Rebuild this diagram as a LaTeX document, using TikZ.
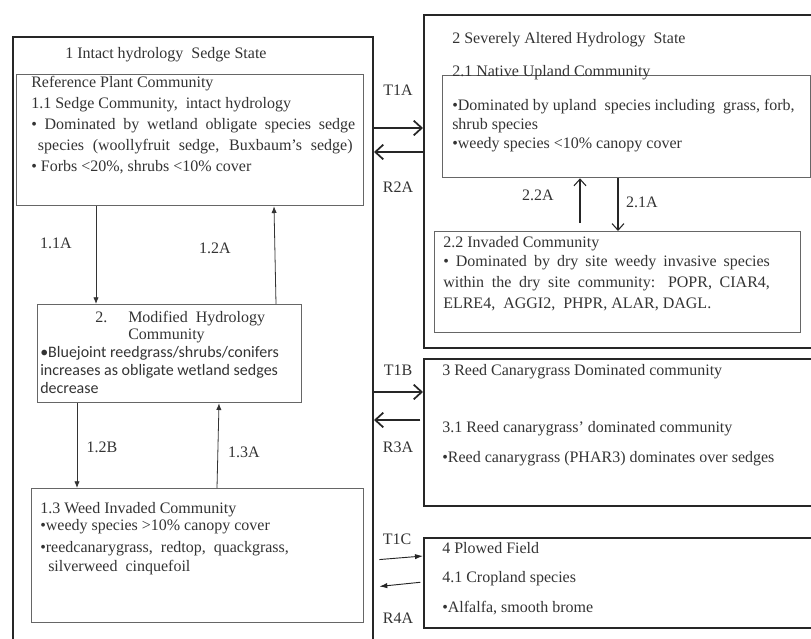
\documentclass[tikz,border=0pt]{standalone}
\usepackage{fontspec}
\setmainfont{Liberation Serif}
\newfontfamily\carlito{Carlito}
\usepackage{tikz}
\usetikzlibrary{arrows.meta,positioning}

\begin{document}
\begin{tikzpicture}[x=0.75pt,y=-0.75pt,
    statebox/.style={draw=black!85,line width=1.5pt,anchor=north west,inner sep=0pt},
    commbox/.style={draw=black!60,line width=1pt,anchor=north west,inner sep=0pt},
    txt/.style={anchor=base west,align=left,inner sep=0pt,text=black!80,font=\fontsize{12}{15.6}\selectfont},
    lbl/.style={inner sep=0pt,text=black!80,font=\fontsize{12}{14}\selectfont},
    flow/.style={-{Latex[length=5pt,width=4pt]},line width=0.6pt,draw=black!80},
    trans/.style={-{Straight Barb[length=6pt,width=11pt]},line width=1.3pt,draw=black!85},
    cropflow/.style={-{Latex[length=6pt,width=4pt]},line width=0.7pt,draw=black!85},
    commflow/.style={-{Straight Barb[length=5pt,width=9pt]},line width=0.8pt,draw=black!85}]

            \useasboundingbox (0,0) rectangle (811,639);
            \clip (0,0) rectangle (811,639);

            % state boxes
            \node[statebox,minimum width=270pt,minimum height=460.5pt] (intact) at (12,36) {};
            \node[statebox,minimum width=305.25pt,minimum height=249.75pt] (altered) at (423,14) {};
            \node[statebox,minimum width=305.25pt,minimum height=110.25pt] (reed) at (423,358) {};
            \node[statebox,minimum width=305.25pt,minimum height=67.5pt] (plowed) at (423,537) {};

            % community boxes
            \node[commbox,minimum width=260.25pt,minimum height=98.25pt] (sedge) at (16,74) {};
            \node[commbox,minimum width=198pt,minimum height=73.5pt] (modhyd) at (37,304) {};
            \node[commbox,minimum width=249pt,minimum height=100.5pt] (weed) at (31,488) {};
            \node[commbox,minimum width=276pt,minimum height=76.5pt] (upland) at (442,75) {};
            \node[commbox,minimum width=274.5pt,minimum height=75.75pt] (invaded) at (434,231) {};

            % state 1 (multi-line texts sit on their last line)
            \node[txt] (intacttitle) at (65,58) {1 Intact hydrology\ \ Sedge State};
            \node[txt] (sedgetxt) at (31,171) {Reference Plant Community\\
                1.1 Sedge Community,\ \ intact hydrology\\
                \makebox[243pt][s]{• Dominated by wetland obligate species sedge}\\
                \hspace*{5pt}\makebox[236pt][s]{species (woollyfruit sedge, Buxbaum's sedge)}\\
                • Forbs <20\%, shrubs <10\% cover};
            \node[txt] (modnum) at (95,322) {2.};
            \node[txt,font=\fontsize{12}{12.75}\selectfont] (modtitle) at (128,339) {Modified\ \ Hydrology\\Community};
            \node[txt,font=\carlito\fontsize{12}{13.5}\selectfont] (modtxt) at (40,393) {•Bluejoint reedgrass/shrubs/conifers\\increases as obligate wetland sedges\\decrease};
            \node[txt,font=\fontsize{12}{12.75}\selectfont] (weedtxt) at (40,571) {1.3 Weed Invaded Community\\
                •weedy species >10\% canopy cover\\[3.75pt]
                •reedcanarygrass,\ \ redtop,\ \ quackgrass,\\[1.5pt]
                \hspace*{6pt}silverweed\ \ cinquefoil};

            % state 2
            \node[txt] (alteredtitle) at (452,43) {2 Severely Altered Hydrology\ \ State};
            \node[txt] (uplandtitle) at (452,76) {2.1 Native Upland Community};
            \node[txt,font=\fontsize{12}{13.9}\selectfont] (uplandtxt) at (452,148) {•Dominated by upland\ \ species including\ \ grass, forb,\\
                shrub species\\
                •weedy species <10\% canopy cover};
            \node[txt] (invadedtitle) at (443,247) {2.2 Invaded Community};
            \node[txt,font=\fontsize{12}{15.4}\selectfont] (invadedtxt) at (443,308) {\makebox[245pt][s]{• Dominated by dry site weedy invasive species}\\
                \makebox[245pt][s]{within the dry site community: POPR, CIAR4,}\\
                ELRE4,\ \ AGGI2,\ \ PHPR, ALAR, DAGL.};

            % states 3 and 4
            \node[txt] (reedtitle) at (442,375) {3 Reed Canarygrass Dominated community};
            \node[txt] (reedsub) at (442,432) {3.1 Reed canarygrass' dominated community};
            \node[txt] (reedtxt) at (442,462) {•Reed canarygrass (PHAR3) dominates over sedges};
            \node[txt,font=\fontsize{12}{22}\selectfont] (plowedtxt) at (442,612) {4 Plowed Field\\4.1 Cropland species\\•Alfalfa, smooth brome};

            % pathways inside state 1
            \draw[flow] (96,0 |- sedge.south) -- (96,0 |- modhyd.north);
            \draw[flow] (276,0 |- modhyd.north) -- (274,0 |- sedge.south);
            \draw[flow] (77,0 |- modhyd.south) -- (77,0 |- weed.north);
            \draw[flow] (217,0 |- weed.north) -- (219,0 |- modhyd.south);
            \node[lbl] (p11a) at (56,243) {1.1A};
            \node[lbl] (p12a) at (215,248) {1.2A};
            \node[lbl] (p12b) at (102,447) {1.2B};
            \node[lbl] (p13a) at (244,452) {1.3A};

            % pathways inside state 2
            \draw[commflow,shorten <=6pt] (580,0 |- invaded.north) -- (580,0 |- upland.south);
            \draw[commflow] (618,0 |- upland.south) -- (618,0 |- invaded.north);
            \node[lbl] (p22a) at (538,195) {2.2A};
            \node[lbl] (p21a) at (642,202) {2.1A};

            % transitions and restorations
            \draw[trans] (intact.east |- 0,128) -- (altered.west |- 0,128);
            \draw[trans] (altered.west |- 0,152) -- (intact.east |- 0,152);
            \draw[trans] (intact.east |- 0,392) -- (reed.west |- 0,392);
            \draw[trans,shorten <=2pt] (reed.west |- 0,420) -- (intact.east |- 0,420);
            \draw[cropflow,shorten <=4pt] (intact.east |- 0,560) -- (plowed.west |- 0,556);
            \draw[cropflow,shorten <=2pt,shorten >=4pt] (plowed.west |- 0,582) -- (intact.east |- 0,587);
            \node[lbl] (t1a) at (398,90) {T1A};
            \node[lbl] (r2a) at (398,187) {R2A};
            \node[lbl] (t1b) at (398,370) {T1B};
            \node[lbl] (r3a) at (398,447) {R3A};
            \node[lbl] (t1c) at (397,539) {T1C};
            \node[lbl] (r4a) at (398,618) {R4A};
            \end{tikzpicture}
\end{document}
